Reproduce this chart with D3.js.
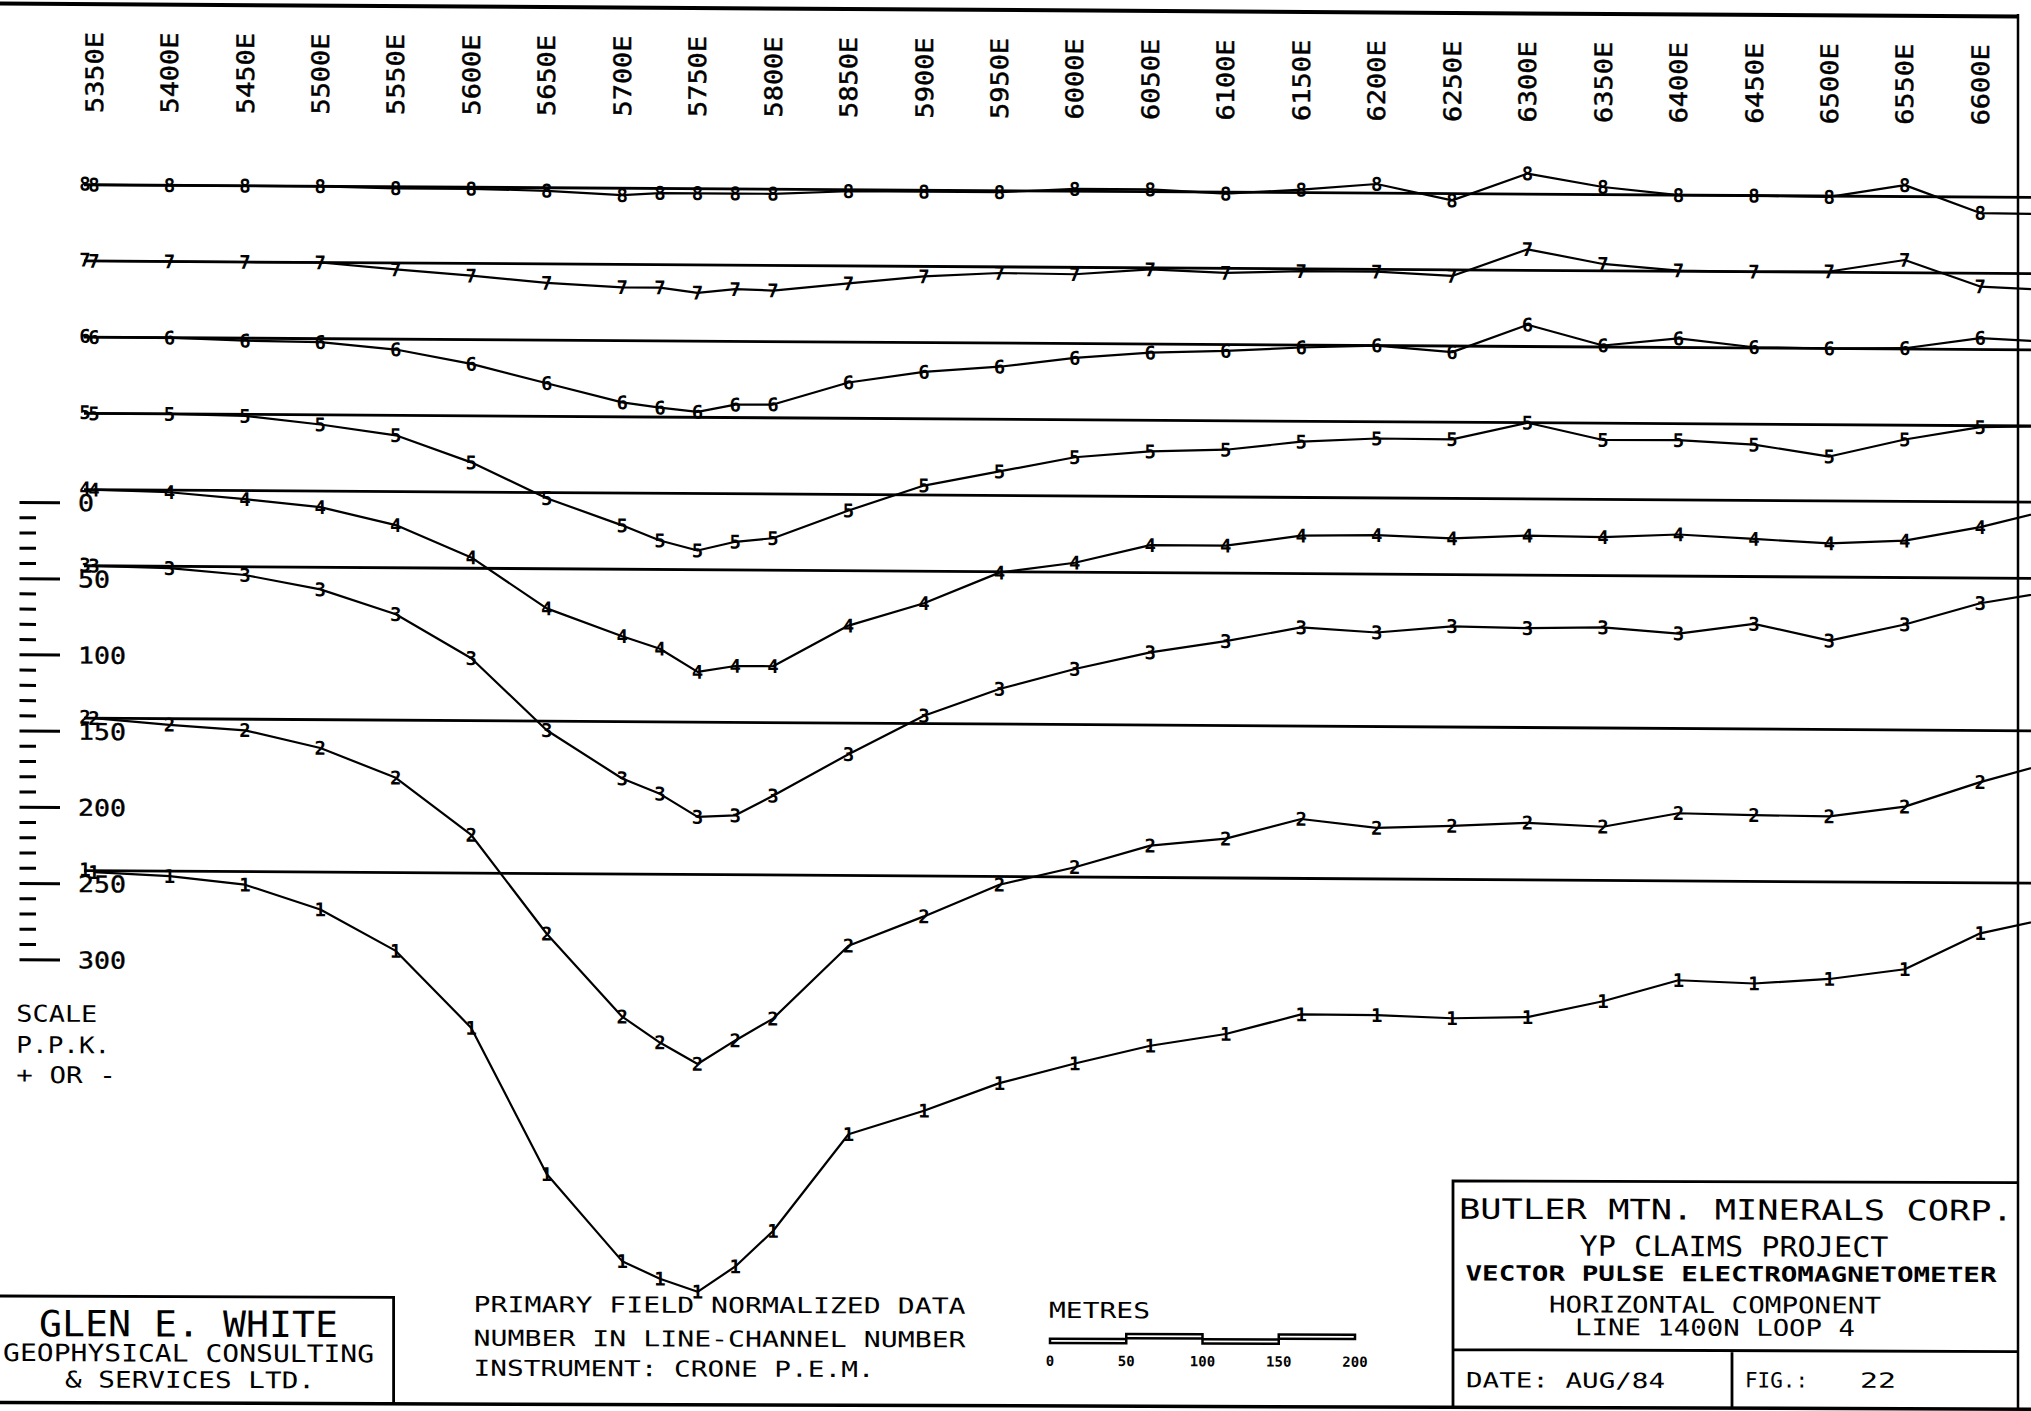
<!DOCTYPE html>
<html><head><meta charset="utf-8">
<script src="https://cdn.jsdelivr.net/npm/d3@7"></script>
<style>
html,body{margin:0;padding:0;background:#fff;overflow:hidden}
svg{display:block;background:#fff}
text{font-family:"DejaVu Sans Mono",monospace;fill:#000}
</style></head><body>
<svg id="chart" width="2031" height="1411"></svg>
<script>
// ---------------- DATA ----------------
const stations = [5350,5400,5450,5500,5550,5600,5650,5700,5725,5750,5775,5800,5850,5900,5950,6000,6050,6100,6150,6200,6250,6300,6350,6400,6450,6500,6550,6600,6650];
const labelStations = [5350,5400,5450,5500,5550,5600,5650,5700,5750,5800,5850,5900,5950,6000,6050,6100,6150,6200,6250,6300,6350,6400,6450,6500,6550,6600];
const channelNumbers = [1,2,3,4,5,6,7,8];
const channelOffsets = [450,350,250,200,150,100,50,0]; // P.P.K. shift of each channel's zero line
const ch1 = [-1,-3.3,-8.6,-24.5,-51.4,-101.6,-197.2,-254,-265.4,-273.8,-257,-233.6,-169.8,-154,-135.6,-122.4,-110.4,-102.4,-89.2,-89.4,-91.1,-90,-79.3,-65.2,-67,-63.7,-57,-33.1,-22];
const ch2 = [0,-4,-7.3,-18.6,-37.8,-75,-139.5,-193.6,-210.4,-224.3,-208.7,-194.2,-146.1,-126.5,-105.4,-93.6,-79.1,-74.2,-61,-66.5,-64.9,-62.5,-64.8,-55.6,-56.5,-57,-50.3,-33.9,-20];
const ch3 = [0,-1.2,-5.4,-14.5,-30.5,-59,-106,-137.3,-147.2,-162.2,-161,-148,-120.4,-94.8,-77,-63.5,-52.3,-44.6,-35.3,-38.3,-33.9,-34.8,-34,-37.7,-31,-41.7,-30.8,-16.5,-8];
const ch4 = [0,-1.4,-5.6,-10.5,-22,-42.9,-76,-94,-102,-117,-113,-113,-86,-71,-50.6,-43.8,-31.9,-31.9,-25.1,-24.4,-26.2,-24.1,-24.8,-22.7,-25.3,-27.9,-25.8,-16.6,-4];
const ch5 = [0,0,-1,-6.3,-13.1,-30.5,-53.7,-71.2,-81,-87.4,-81.5,-79,-60.5,-43.8,-34.2,-24.6,-20.4,-19,-13.4,-11,-11.2,0,-11,-10.8,-13.4,-20.9,-9.4,-1,0];
const ch6 = [0,0,-1.6,-2.3,-6.8,-15.9,-28.3,-40.5,-43.8,-46.4,-41.5,-41.3,-26.5,-19.2,-15.5,-9.4,-5.6,-4.2,-1.6,0,-4,14.3,1,6,0.5,0,0.5,7.5,5];
const ch7 = [0,0,0,0,-4.2,-8,-12.4,-15,-15,-18.3,-15.7,-16.5,-11.5,-6.6,-4,-4.5,-1,-3,-1.5,-1.5,-4,13.8,4.5,0.5,0,0.5,8.4,-8.7,-11];
const ch8 = [0,0,0,0,-1,-1,-2,-4.5,-3,-3,-3,-3,-1,-1,-1,1.5,1.5,-1,2,6,-4.4,13.5,5,0,0,-0.5,7.5,-10.5,-11];
const seriesValues = [ch1,ch2,ch3,ch4,ch5,ch6,ch7,ch8];
const rulerMajor = [0,50,100,150,200,250,300];
const rulerMinor = d3.range(0,301,10);
const scaleLines = ["SCALE","P.P.K.","+ OR -"];
const metreTicks = [0,50,100,150,200];
const notesLines = ["PRIMARY FIELD NORMALIZED DATA","NUMBER IN LINE-CHANNEL NUMBER","INSTRUMENT: CRONE P.E.M."];
const firmLines = ["GLEN E. WHITE","GEOPHYSICAL CONSULTING","& SERVICES LTD."];
const titleLines = ["BUTLER MTN. MINERALS CORP.","YP CLAIMS PROJECT","VECTOR PULSE ELECTROMAGNETOMETER","HORIZONTAL COMPONENT","LINE 1400N LOOP 4"];

// ---------------- SCALES ----------------
const W = 2031;
const svg = d3.select("#chart");
const x = d3.scaleLinear().domain([5350,6600]).range([94,1980.25]);
const y = d3.scaleLinear().domain([0,-450]).range([184.2,184.2+450*1.524]);
const ruler = d3.scaleLinear().domain([0,300]).range([502.3,502.3+300*1.524]);
const metres = d3.scaleLinear().domain([0,200]).range([1050,1355]);

const plot = svg.append("g").attr("transform","matrix(1,0.0065,0,1,0,0)");
const foot = svg.append("g").attr("transform","matrix(1,0.0033,0,1,0,0)");

// frame
plot.append("line").attr("x1",0).attr("x2",2018).attr("y1",3.5).attr("y2",3.5).attr("stroke","#000").attr("stroke-width",4);
svg.append("line").attr("x1",2018).attr("x2",2018).attr("y1",14).attr("y2",1409).attr("stroke","#000").attr("stroke-width",2.5);
foot.append("line").attr("x1",0).attr("x2",W).attr("y1",1402.5).attr("y2",1402.5).attr("stroke","#000").attr("stroke-width",3.5);

// station labels
plot.selectAll("text.st").data(labelStations).join("text")
  .attr("class","st")
  .attr("transform",d=>`translate(${x(d)},112.4) rotate(-90)`)
  .attr("dy","0.36em")
  .attr("font-size",24)
  .attr("stroke","#000").attr("stroke-width",0.5)
  .attr("textLength",81).attr("lengthAdjust","spacingAndGlyphs")
  .text(d=>d+"E");

// channel zero lines
const chData = channelNumbers.map((c,i)=>({c, off:channelOffsets[i], pts:stations.map((s,j)=>({s, v:seriesValues[i][j]}))}));
plot.selectAll("line.base").data(chData).join("line")
  .attr("class","base")
  .attr("x1",x(5350)-10).attr("x2",2060)
  .attr("y1",d=>y(-d.off)).attr("y2",d=>y(-d.off))
  .attr("stroke","#000").attr("stroke-width",2.8);
plot.selectAll("text.chl").data(chData).join("text")
  .attr("class","chl")
  .attr("x",x(5350)-9).attr("y",d=>y(-d.off)).attr("dy","0.3em")
  .attr("text-anchor","middle").attr("font-size",19).attr("font-weight","bold")
  .text(d=>d.c);

// profiles
const line = d3.line().x(d=>x(d.s));
chData.forEach(ch=>{
  plot.append("path")
    .attr("d", line.y(d=>y(d.v-ch.off))(ch.pts))
    .attr("fill","none").attr("stroke","#000").attr("stroke-width",2.2).attr("stroke-linejoin","round");
  plot.selectAll(null).data(ch.pts.filter(d=>x(d.s)<W-10)).join("text")
    .attr("x",d=>x(d.s)).attr("y",d=>y(d.v-ch.off)).attr("dy","0.36em")
    .attr("text-anchor","middle").attr("font-size",19).attr("font-weight","bold")
    .text(ch.c);
});

// ruler
plot.selectAll("line.rmin").data(rulerMinor).join("line")
  .attr("x1",19.5).attr("x2",d=>rulerMajor.includes(d)?60:36)
  .attr("y1",d=>ruler(d)).attr("y2",d=>ruler(d))
  .attr("stroke","#000").attr("stroke-width",3);
plot.selectAll("text.rl").data(rulerMajor).join("text")
  .attr("x",78).attr("y",d=>ruler(d)).attr("dy","0.36em")
  .attr("font-size",23).attr("stroke","#000").attr("stroke-width",0.4)
  .attr("textLength",d=>16*String(d).length).attr("lengthAdjust","spacingAndGlyphs")
  .text(d=>d);
const scaleY = [1021.4,1052.7,1082.7], scaleW = [81,94,99.5];
plot.selectAll("text.sc").data(scaleLines).join("text")
  .attr("x",16.3).attr("y",(d,i)=>scaleY[i]).attr("font-size",23)
  .attr("textLength",(d,i)=>scaleW[i]).attr("lengthAdjust","spacingAndGlyphs")
  .text(d=>d);

// firm box
foot.append("path").attr("d","M0,1296H393.6V1402").attr("fill","none").attr("stroke","#000").attr("stroke-width",2.8);
const firmY=[1336,1361,1387.3], firmF=[36,24,23], firmW=[299,371,250], firmX=[188.6,188.6,190];
foot.selectAll("text.firm").data(firmLines).join("text")
  .attr("x",(d,i)=>firmX[i]).attr("y",(d,i)=>firmY[i]).attr("text-anchor","middle")
  .attr("font-size",(d,i)=>firmF[i]).attr("textLength",(d,i)=>firmW[i]).attr("lengthAdjust","spacingAndGlyphs")
  .text(d=>d);

// notes
const noteY=[1310.5,1344.2,1374.2], noteW=[492,492,401];
foot.selectAll("text.note").data(notesLines).join("text")
  .attr("x",473.6).attr("y",(d,i)=>noteY[i]).attr("font-size",22)
  .attr("textLength",(d,i)=>noteW[i]).attr("lengthAdjust","spacingAndGlyphs")
  .text(d=>d);

// metre bar
foot.append("text").attr("x",1049).attr("y",1314.4).attr("font-size",22)
  .attr("textLength",101).attr("lengthAdjust","spacingAndGlyphs").text("METRES");
const segs = d3.pairs(metreTicks);
foot.selectAll("rect.seg").data(segs).join("rect")
  .attr("x",d=>metres(d[0])).attr("width",d=>metres(d[1])-metres(d[0]))
  .attr("y",(d,i)=>i%2===0?1335.2:1330.2).attr("height",4.3)
  .attr("fill","#fff").attr("stroke","#000").attr("stroke-width",2.5);
foot.selectAll("text.mt").data(metreTicks).join("text")
  .attr("x",d=>metres(d)).attr("y",1362.4).attr("text-anchor","middle")
  .attr("font-size",14).attr("font-weight","bold")
  .text(d=>d);

// title block
foot.append("path").attr("d","M2018,1176H1453V1402M1453,1344.9H2018M1732,1344.9V1402")
  .attr("fill","none").attr("stroke","#000").attr("stroke-width",2.8);
const tX=[1459,1734,1731,1715,1715], tY=[1213.9,1250.6,1275.6,1307.3,1330], tF=[28,28,21,23,23], tW=[554,309,531,332,280], tA=["start","middle","middle","middle","middle"];
foot.selectAll("text.title").data(titleLines).join("text")
  .attr("x",(d,i)=>tX[i]).attr("y",(d,i)=>tY[i]).attr("text-anchor",(d,i)=>tA[i])
  .attr("font-size",(d,i)=>tF[i]).attr("font-weight",(d,i)=>i===2?"bold":"normal")
  .attr("textLength",(d,i)=>tW[i]).attr("lengthAdjust","spacingAndGlyphs")
  .text(d=>d);
foot.append("text").attr("x",1466).attr("y",1382.5).attr("font-size",21)
  .attr("textLength",199).attr("lengthAdjust","spacingAndGlyphs").text("DATE: AUG/84");
const fig = foot.append("text").attr("y",1381.6).attr("font-size",21);
fig.append("tspan").attr("x",1745).attr("textLength",63).attr("lengthAdjust","spacingAndGlyphs").text("FIG.:");
fig.append("tspan").attr("x",1860).attr("textLength",36).attr("lengthAdjust","spacingAndGlyphs").text("22");
</script>
</body></html>
